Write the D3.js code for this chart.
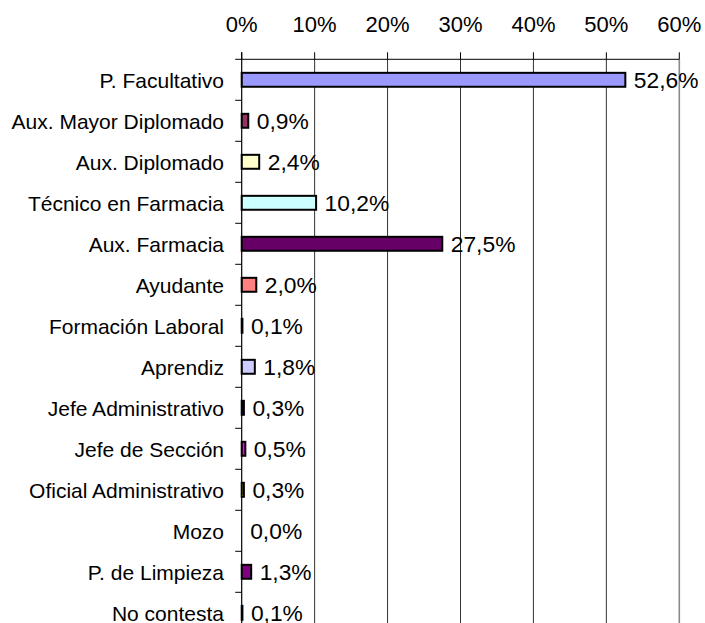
<!DOCTYPE html>
<html>
<head>
<meta charset="utf-8">
<script src="https://cdnjs.cloudflare.com/ajax/libs/d3/7.8.5/d3.min.js"></script>
<style>
  body { margin: 0; background: #fff; }
  svg { display: block; }
  text { font-family: "Liberation Sans", Arial, sans-serif; fill: #000; }
</style>
</head>
<body>
<div id="chart"></div>
<script>
var categories = ["P. Facultativo", "Aux. Mayor Diplomado", "Aux. Diplomado", "Técnico en Farmacia",
    "Aux. Farmacia", "Ayudante", "Formación Laboral", "Aprendiz", "Jefe Administrativo",
    "Jefe de Sección", "Oficial Administrativo", "Mozo", "P. de Limpieza", "No contesta"];
var values = [52.6, 0.9, 2.4, 10.2, 27.5, 2.0, 0.1, 1.8, 0.3, 0.5, 0.3, 0.0, 1.3, 0.1];
var colors = ["#9999FF", "#993366", "#FFFFCC", "#CCFFFF", "#660066", "#FF8080", "#0066CC",
    "#CCCCFF", "#000080", "#FF00FF", "#FFFF00", "#00FFFF", "#800080", "#800000"];
var ticks = [0, 10, 20, 30, 40, 50, 60];

var width = 705, height = 623;
var plotLeft = 241.7, plotRight = 679.3, plotTop = 59.3, step = 41;

var svg = d3.select("#chart").append("svg")
    .attr("width", width).attr("height", height);

var x = d3.scaleLinear().domain([0, 60]).range([plotLeft, plotRight]);
var y = d3.scaleBand().domain(categories)
    .range([plotTop, plotTop + categories.length * step])
    .paddingInner(0.66).paddingOuter(0.33);

var plotBottom = plotTop + categories.length * step;
var fmt = function(v) { return v.toFixed(1).replace(".", ",") + "%"; };

// gridlines
svg.append("g").selectAll("line")
    .data(ticks.slice(1, -1))
    .enter().append("line")
    .attr("x1", function(d) { return x(d); })
    .attr("x2", function(d) { return x(d); })
    .attr("y1", plotTop).attr("y2", plotBottom)
    .attr("stroke", "#333").attr("stroke-width", 1);

// right plot border
svg.append("line")
    .attr("x1", x(60)).attr("x2", x(60))
    .attr("y1", plotTop).attr("y2", plotBottom)
    .attr("stroke", "#8a8a8a").attr("stroke-width", 1.6);

// bars
svg.append("g").selectAll("rect")
    .data(values)
    .enter().append("rect")
    .attr("x", x(0))
    .attr("y", function(d, i) { return y(categories[i]); })
    .attr("width", function(d) { return x(d) - x(0); })
    .attr("height", y.bandwidth())
    .attr("fill", function(d, i) { return colors[i]; })
    .attr("stroke", function(d) { return d > 0 ? "#000" : "none"; })
    .attr("stroke-width", 2);

// top axis
var axisG = svg.append("g");
axisG.append("line")
    .attr("x1", plotLeft - 6.5).attr("x2", plotRight)
    .attr("y1", plotTop).attr("y2", plotTop)
    .attr("stroke", "#000").attr("stroke-width", 1);
axisG.selectAll("line.tick")
    .data(ticks)
    .enter().append("line")
    .attr("class", "tick")
    .attr("x1", function(d) { return x(d); })
    .attr("x2", function(d) { return x(d); })
    .attr("y1", plotTop - 7).attr("y2", plotTop)
    .attr("stroke", "#000").attr("stroke-width", 1);
axisG.selectAll("text")
    .data(ticks)
    .enter().append("text")
    .attr("x", function(d) { return x(d); })
    .attr("y", 31.7)
    .attr("text-anchor", "middle")
    .attr("font-size", 22)
    .text(function(d) { return d + "%"; });

// left axis
var yAxisG = svg.append("g");
yAxisG.append("line")
    .attr("x1", plotLeft).attr("x2", plotLeft)
    .attr("y1", plotTop - 7).attr("y2", plotBottom)
    .attr("stroke", "#000").attr("stroke-width", 1.2);
yAxisG.selectAll("line.tick")
    .data(d3.range(1, categories.length))
    .enter().append("line")
    .attr("class", "tick")
    .attr("x1", plotLeft - 6.5).attr("x2", plotLeft)
    .attr("y1", function(i) { return plotTop + i * step; })
    .attr("y2", function(i) { return plotTop + i * step; })
    .attr("stroke", "#000").attr("stroke-width", 1);
yAxisG.selectAll("text")
    .data(categories)
    .enter().append("text")
    .attr("x", 224)
    .attr("y", function(d) { return y(d) + y.bandwidth() / 2 + 7.8; })
    .attr("text-anchor", "end")
    .attr("font-size", 21)
    .text(function(d) { return d; });

// value labels
svg.append("g").selectAll("text")
    .data(values)
    .enter().append("text")
    .attr("x", function(d) { return x(d) + 8.5; })
    .attr("y", function(d, i) { return y(categories[i]) + y.bandwidth() / 2 + 7.8; })
    .attr("font-size", 22.8)
    .text(fmt);
</script>
</body>
</html>
